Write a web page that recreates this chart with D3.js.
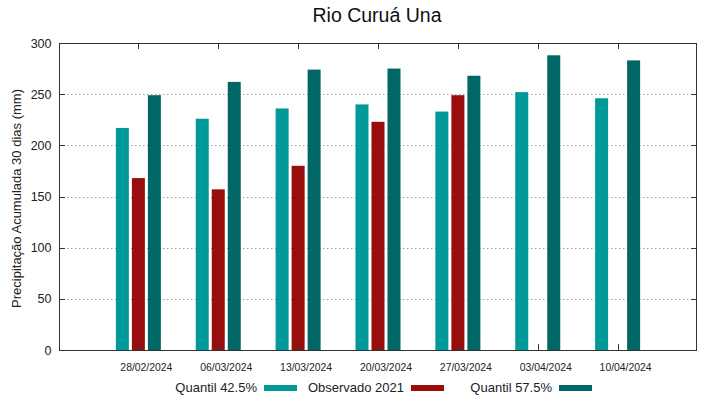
<!DOCTYPE html>
<html><head><meta charset="utf-8">
<script src="https://cdn.jsdelivr.net/npm/d3@7"></script>
<style>body{margin:0;background:#fff}svg{font-family:"Liberation Sans",Arial,sans-serif}</style>
</head><body><svg id="c" width="719" height="399"></svg>
<script>
const categories = ["28/02/2024","06/03/2024","13/03/2024","20/03/2024","27/03/2024","03/04/2024","10/04/2024"];
const q425 = [217, 226, 236, 240, 233, 252, 246];
const obs2021 = [168, 157, 180, 223, 249, null, null];
const q575 = [249, 262, 274, 275, 268, 288, 283];
const yTicks = [0, 50, 100, 150, 200, 250, 300];
const seriesNames = ["Quantil 42.5%", "Observado 2021", "Quantil 57.5%"];
const colors = ["#009999", "#990d0d", "#006666"];

const svg = d3.select("#c");
const L = 59, R = 697, T = 43, B = 350;
const x = d3.scaleLinear().domain([-1, 7]).range([L - 0.5, R + 0.5]);
const y = d3.scaleLinear().domain([0, 300]).range([B, T]);

// grid
svg.append("g").selectAll("line").data(yTicks.filter(d => d > 0 && d < 300)).join("line")
  .attr("x1", L).attr("x2", R).attr("y1", d => Math.round(y(d)) + 0.5).attr("y2", d => Math.round(y(d)) + 0.5)
  .attr("stroke", "#a0a0a0").attr("stroke-width", 1).attr("stroke-dasharray", "1.5,2.5");

// bars
const series = [q425, obs2021, q575];
const bw = 13, step = 16;
series.forEach((s, si) => {
  svg.append("g").selectAll("rect").data(s.map((v, i) => ({v, i})).filter(d => d.v != null)).join("rect")
    .attr("x", d => x(d.i) + (si - 1) * step - bw / 2)
    .attr("y", d => y(d.v)).attr("width", bw).attr("height", d => B - y(d.v))
    .attr("fill", colors[si]);
});

// frame
svg.append("rect").attr("x", L + 0.5).attr("y", T + 0.5).attr("width", R - L - 1).attr("height", B - T)
  .attr("fill", "none").attr("stroke", "#333").attr("stroke-width", 1);

// y axis
const ya = svg.append("g").attr("transform", `translate(${L + 0.5},0)`)
  .call(d3.axisLeft(y).tickValues(yTicks).tickSize(0).tickPadding(8));
ya.select(".domain").remove();
ya.selectAll("text").attr("font-size", 12.5).attr("fill", "#222").attr("font-family", "Liberation Sans, Arial, sans-serif");
// mirror ticks
svg.append("g").selectAll("line").data(yTicks).join("line")
  .attr("x1", L).attr("x2", L + 6).attr("y1", d => Math.round(y(d)) + 0.5).attr("y2", d => Math.round(y(d)) + 0.5).attr("stroke", "#333");
svg.append("g").selectAll("line").data(yTicks).join("line")
  .attr("x1", R - 6).attr("x2", R).attr("y1", d => Math.round(y(d)) + 0.5).attr("y2", d => Math.round(y(d)) + 0.5).attr("stroke", "#333");

// x ticks
const idx = d3.range(categories.length);
svg.append("g").selectAll("line").data(idx).join("line")
  .attr("x1", d => Math.round(x(d)) + 0.5).attr("x2", d => Math.round(x(d)) + 0.5).attr("y1", B).attr("y2", B - 6).attr("stroke", "#333");
svg.append("g").selectAll("line").data(idx).join("line")
  .attr("x1", d => Math.round(x(d)) + 0.5).attr("x2", d => Math.round(x(d)) + 0.5).attr("y1", T).attr("y2", T + 6).attr("stroke", "#333");
svg.append("g").selectAll("text").data(idx).join("text")
  .attr("x", d => x(d) + 8).attr("y", B + 21).attr("text-anchor", "middle")
  .attr("font-size", 10.4).attr("fill", "#222").text(d => categories[d]);

// title
svg.append("text").attr("x", 377).attr("y", 22).attr("text-anchor", "middle")
  .attr("font-size", 19.5).attr("fill", "#111").text("Rio Curuá Una");

// y label
svg.append("text").attr("transform", `translate(21,${(T + B) / 2 + 2}) rotate(-90)`)
  .attr("text-anchor", "middle").attr("font-size", 13).attr("fill", "#222")
  .text("Precipitação Acumulada 30 dias (mm)");

// legend
const legTextEnd = [257, 404, 552];
const lg = svg.append("g");
seriesNames.forEach((n, i) => {
  lg.append("text").attr("x", legTextEnd[i]).attr("y", 392).attr("text-anchor", "end")
    .attr("font-size", 13).attr("fill", "#222").text(n);
  lg.append("rect").attr("x", legTextEnd[i] + 7).attr("y", 385).attr("width", 33).attr("height", 6).attr("fill", colors[i]);
});
</script></body></html>
